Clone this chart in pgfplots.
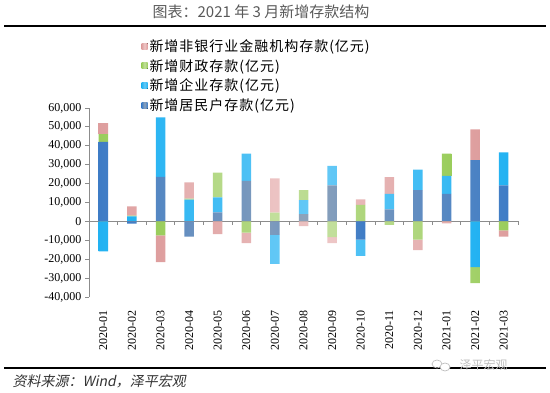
\documentclass[border=0pt]{standalone}
\usepackage{pgfplots}
\pgfplotsset{compat=1.18}
\usepackage{pgfplotstable}
\usepackage{fontspec}
\setmainfont{Liberation Serif}
\newfontfamily\tms{Liberation Serif}
\newfontfamily\cjk{Noto Sans CJK SC}
\newfontfamily\cjkleg[LetterSpace=7]{Noto Sans CJK SC}
\newfontfamily\cjkit[FakeSlant=0.2]{Noto Sans CJK SC}
\definecolor{cBlueE}{HTML}{3E7CC6}
\definecolor{cBlueM}{HTML}{8DA2BA}
\definecolor{cCyanE}{HTML}{22B2F2}
\definecolor{cCyanM}{HTML}{66C9F6}
\definecolor{cGreenE}{HTML}{9ACD5C}
\definecolor{cGreenM}{HTML}{C2DF9C}
\definecolor{cPinkE}{HTML}{DE9E9E}
\definecolor{cPinkM}{HTML}{EDC6C6}
\definecolor{axgray}{HTML}{8C8C8C}

\pgfplotstableread{
x blue cyan green pink
0 42100 0 4100 5800
1 0 2700 300 5000
2 23500 31500 0 0
3 0 11500 500 8700
4 4800 7900 13100 0
5 21400 14500 0 0
6 0 0 4600 18200
7 3900 7400 5300 0
8 19100 10300 0 0
9 0 0 8800 2900
10 6400 8100 0 8900
11 16500 10900 0 0
12 14500 9600 11700 0
13 32400 0 0 16300
14 19100 17400 0 0
}\postab

\pgfplotstableread{
x blue cyan green pink
0 0 -15900 0 0
1 -1200 0 0 0
2 0 0 -7400 -14200
3 -8000 0 0 0
4 0 0 0 -6700
5 0 0 -6000 -5500
6 -7100 -15400 0 0
7 0 0 0 -2500
8 0 0 -8300 -3200
9 -9600 -8600 0 0
10 0 0 -1800 0
11 0 0 -9600 -5600
12 0 0 0 -1100
13 0 -24200 -8400 0
14 0 0 -4800 -3200
}\negtab

\pgfplotsset{
  sBlue/.style={left color=cBlueE, right color=cBlueE, middle color=cBlueM, draw=none},
  sCyan/.style={left color=cCyanE, right color=cCyanE, middle color=cCyanM, draw=none},
  sGreen/.style={left color=cGreenE, right color=cGreenE, middle color=cGreenM, draw=none},
  sPink/.style={left color=cPinkE, right color=cPinkE, middle color=cPinkM, draw=none},
  common/.style={
    scale only axis, width=429bp, height=189bp,
    at={(89bp,96bp)}, anchor=south west,
    xmin=-0.5, xmax=14.5, ymin=-40000, ymax=60000,
    enlargelimits=false,
    ybar stacked, bar width=9.5bp,
  },
}

\begin{document}
\begin{tikzpicture}
\useasboundingbox (0,0) rectangle (550bp,393bp);
\node[font=\cjk\fontsize{15bp}{17bp}\selectfont, text=black!65] at (261bp,381bp) {图表：2021 年 3 月新增存款结构};
\draw[line width=2bp] (4bp,367bp) -- (546bp,367bp);
\draw[line width=2bp] (4bp,25bp) -- (546bp,25bp);
\node[anchor=west, font=\cjkit\fontsize{14bp}{16bp}\selectfont, text=black!80] at (9bp,12bp) {资料来源：Wind，泽平宏观};
\draw[black!25, line width=0.7bp] (437bp,29bp) ellipse (5bp and 4bp);
\draw[black!25, line width=0.7bp, fill=white] (445bp,26bp) ellipse (5bp and 4bp);
\node[anchor=west, font=\cjk\fontsize{12bp}{14bp}\selectfont, text=black!25] at (456bp,28bp) {泽平宏观};

\begin{axis}[common,
  axis y line*=left, axis x line*=bottom,
  x axis line style={draw=none},
  y axis line style={draw=axgray, line width=0.8bp},
  ytick={-40000,-30000,...,60000},
  scaled y ticks=false,
  tick align=outside, major tick length=4bp,
  ytick style={draw=axgray, line width=0.8bp},
  xtick={0,...,14},
  xticklabels={2020-01,2020-02,2020-03,2020-04,2020-05,2020-06,2020-07,2020-08,2020-09,2020-10,2020-11,2020-12,2021-01,2021-02,2021-03},
  xtick style={draw=none},
  xticklabel style={rotate=90, anchor=east, inner xsep=9bp, font=\tms\fontsize{12bp}{14bp}\selectfont},
  yticklabel style={font=\tms\fontsize{12bp}{14bp}\selectfont},
  /pgf/number format/1000 sep={,},
  /pgf/number format/assume math mode=true,
  reverse legend,
  legend image code/.code={\fill[#1] (0bp,-3bp) rectangle (6bp,3bp);},
  legend style={at={(axis description cs:0.115,1.385)}, anchor=north west, draw=none, fill=none,
    font=\cjkleg\fontsize{14bp}{16bp}\selectfont, row sep=2.5bp},
  legend cell align=left,
]
\addplot[sBlue] table[x=x, y=blue] {\postab};
\addlegendentry{新增居民户存款(亿元)}
\addplot[sCyan] table[x=x, y=cyan] {\postab};
\addlegendentry{新增企业存款(亿元)}
\addplot[sGreen] table[x=x, y=green] {\postab};
\addlegendentry{新增财政存款(亿元)}
\addplot[sPink] table[x=x, y=pink] {\postab};
\addlegendentry{新增非银行业金融机构存款(亿元)}
\end{axis}

\begin{axis}[common, hide axis, clip=false]
\addplot[sBlue] table[x=x, y=blue] {\negtab};
\addplot[sCyan] table[x=x, y=cyan] {\negtab};
\addplot[sGreen] table[x=x, y=green] {\negtab};
\addplot[sPink] table[x=x, y=pink] {\negtab};
\draw[axgray, line width=1.2bp] (axis cs:-0.5,0) -- (axis cs:14.5,0);
\pgfplotsinvokeforeach{0.5,1.5,...,14.5}{\draw[axgray, line width=0.8bp] (axis cs:#1,0) -- ++(0bp,-3.5bp);}
\end{axis}
\end{tikzpicture}
\end{document}
